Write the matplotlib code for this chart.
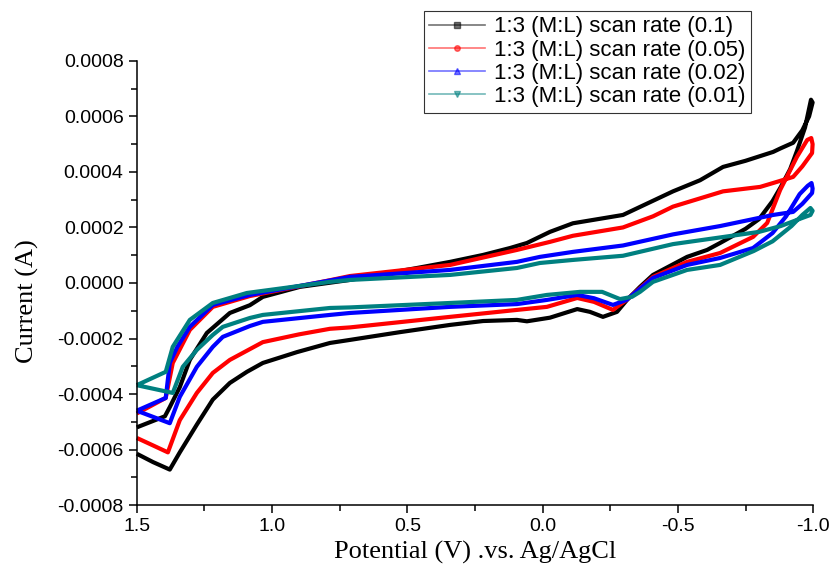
import numpy as np
import matplotlib.pyplot as plt
from matplotlib.lines import Line2D
from matplotlib.ticker import MultipleLocator, FormatStrFormatter

plt.rcParams["axes.unicode_minus"] = False

# Cyclic voltammograms, potential in V, current in units of 1e-4 A
# each loop: forward sweep (1.5 -> -1.0) then back (-1.0 -> 1.5)
v_01 = [1.50, 1.44, 1.378, 1.341, 1.278, 1.219, 1.156, 1.093, 1.034, 0.908, 0.786,
        0.712, 0.527, 0.342, 0.22, 0.095, 0.058, -0.027, -0.128, -0.175, -0.223, -0.275, -0.312,
        -0.36, -0.408, -0.534, -0.608, -0.656, -0.75, -0.80, -0.85, -0.88, -0.915, -0.94, -0.97,
        -0.992,
        -0.998, -0.985, -0.96, -0.926, -0.88, -0.852, -0.75, -0.667, -0.582, -0.482, -0.297, -0.112,
        -0.027, 0.058, 0.12, 0.22, 0.342, 0.464, 0.712, 0.897, 1.034, 1.082, 1.156, 1.241, 1.304,
        1.341, 1.378, 1.396, 1.50]
i_01 = [-6.15, -6.45, -6.72, -6.1, -5.1, -4.2, -3.6, -3.2, -2.88, -2.49, -2.16,
        -2.05, -1.77, -1.51, -1.37, -1.33, -1.38, -1.25, -0.94, -1.04, -1.22, -1.04, -0.61,
        -0.14, 0.29, 0.94, 1.19, 1.44, 1.95, 2.3, 2.95, 3.45, 4.1, 4.75, 5.6,
        6.6,
        6.5, 6.0, 5.5, 5.05, 4.85, 4.72, 4.4, 4.18, 3.7, 3.3, 2.45, 2.15,
        1.84, 1.44, 1.26, 1.01, 0.76, 0.54, 0.11, -0.14, -0.5, -0.8, -1.08, -1.8, -2.77,
        -3.75, -4.47, -4.8, -5.2]

v_005 = [1.50, 1.44, 1.385, 1.341, 1.278, 1.219, 1.156, 1.034, 0.90, 0.786, 0.712,
         0.342, 0.095, -0.016, -0.128, -0.19, -0.26, -0.31, -0.408, -0.534, -0.656, -0.778,
         -0.83, -0.878, -0.94, -0.978, -0.993,
         -0.998, -0.996, -0.96, -0.926, -0.852, -0.804, -0.667, -0.482, -0.408, -0.297, -0.112,
         -0.027, 0.095, 0.342, 0.712, 0.786, 1.082, 1.219, 1.304, 1.367, 1.393, 1.50]
i_005 = [-5.58, -5.85, -6.1, -4.94, -3.96, -3.24, -2.77, -2.13, -1.85, -1.65, -1.6,
         -1.22, -0.97, -0.86, -0.54, -0.68, -0.97, -0.61, 0.22, 0.76, 1.08, 1.66,
         2.16, 3.35, 4.54, 5.15, 5.22,
         5.0, 4.68, 4.2, 3.82, 3.6, 3.46, 3.3, 2.75, 2.4, 2.0, 1.7,
         1.48, 1.19, 0.65, 0.25, 0.1, -0.47, -0.86, -1.69, -2.88, -4.14, -4.7]

v_002 = [1.50, 1.378, 1.341, 1.278, 1.219, 1.182, 1.082, 1.034, 0.786, 0.712, 0.342, 0.095, -0.016,
         -0.128, -0.19, -0.26, -0.31, -0.408, -0.534, -0.656, -0.778, -0.85, -0.90, -0.95, -0.98,
         -0.994,
         -0.998, -0.996, -0.96, -0.926, -0.852, -0.656, -0.482, -0.297, -0.112, 0.01, 0.095, 0.342,
         0.712, 1.082, 1.219, 1.304, 1.35, 1.378, 1.393, 1.50]
i_002 = [-4.6, -5.05, -4.1, -3.02, -2.3, -1.94, -1.55, -1.4, -1.15, -1.08, -0.86, -0.76, -0.61,
         -0.43, -0.55, -0.79, -0.61, 0.18, 0.65, 0.9, 1.26, 1.8, 2.4, 3.2, 3.5,
         3.6,
         3.4, 3.24, 2.85, 2.56, 2.45, 2.05, 1.75, 1.35, 1.12, 0.94, 0.76, 0.47,
         0.22, -0.43, -0.79, -1.58, -2.3, -2.88, -4.14, -4.6]

v_001 = [1.50, 1.367, 1.33, 1.278, 1.219, 1.182, 1.082, 1.034, 0.786, 0.712, 0.342, 0.095, -0.016,
         -0.138, -0.22, -0.286, -0.33, -0.36, -0.408, -0.534, -0.656, -0.78, -0.85, -0.92, -0.96,
         -0.99,
         -0.998, -0.99, -0.94, -0.88, -0.80, -0.656, -0.482, -0.297, -0.112, 0.01, 0.095, 0.342,
         0.712, 0.786, 1.093, 1.219, 1.304, 1.367, 1.393, 1.50]
i_001 = [-3.68, -3.96, -3.02, -2.41, -1.87, -1.58, -1.26, -1.15, -0.9, -0.88, -0.72, -0.61, -0.43,
         -0.32, -0.32, -0.58, -0.5, -0.32, 0.04, 0.47, 0.65, 1.15, 1.5, 2.05, 2.45,
         2.7,
         2.6, 2.45, 2.27, 2.05, 1.84, 1.64, 1.4, 0.98, 0.83, 0.72, 0.54, 0.29,
         0.11, 0.04, -0.36, -0.72, -1.33, -2.3, -3.2, -3.68]

labels = ["1:3 (M:L) scan rate (0.1)", "1:3 (M:L) scan rate (0.05)",
          "1:3 (M:L) scan rate (0.02)", "1:3 (M:L) scan rate (0.01)"]
colors = ["black", "red", "blue", "#008080"]
markers = ["s", "o", "^", "v"]
curves = [(v_01, i_01), (v_005, i_005), (v_002, i_002), (v_001, i_001)]

fig = plt.figure(figsize=(8.34, 5.74), dpi=100)
ax = fig.add_axes([0.164, 0.12, 0.811, 0.774])

for (v, i), c in zip(curves, colors):
    ax.plot(v, np.array(i) * 1e-4, color=c, lw=3.0, solid_joinstyle="round",
            solid_capstyle="butt", clip_on=False)

ax.set_xlim(1.5, -1.0)
ax.set_ylim(-0.0008, 0.0008)
ax.xaxis.set_major_locator(MultipleLocator(0.5))
ax.xaxis.set_minor_locator(MultipleLocator(0.25))
ax.yaxis.set_major_locator(MultipleLocator(0.0002))
ax.yaxis.set_minor_locator(MultipleLocator(0.0001))
ax.xaxis.set_major_formatter(FormatStrFormatter("%.1f"))
ax.yaxis.set_major_formatter(FormatStrFormatter("%.4f"))

for s in ["top", "right"]:
    ax.spines[s].set_visible(False)
for s in ["left", "bottom"]:
    ax.spines[s].set_linewidth(1.1)
ax.tick_params(which="major", length=6, width=1.1, labelsize=14)
ax.tick_params(which="minor", length=4, width=1.1)
for t in ax.get_xticklabels() + ax.get_yticklabels():
    t.set_fontfamily("Liberation Sans")

ax.set_xlabel("Potential (V) .vs. Ag/AgCl", family="Liberation Serif", fontsize=19)
ax.set_ylabel("Current (A)", family="Liberation Serif", fontsize=19)
ax.yaxis.set_label_coords(-0.145, 0.46)

handles = [Line2D([], [], color=c, lw=1.2, alpha=0.55, marker=m, markersize=4,
                  markerfacecolor=c, markeredgecolor=c)
           for c, m in zip(colors, markers)]
leg = fig.legend(handles, labels, loc="upper left", bbox_to_anchor=(0.508, 0.981),
                 prop={"family": "Liberation Sans", "size": 16}, frameon=True,
                 fancybox=False, handlelength=2.5, handletextpad=0.4, labelspacing=0.1,
                 borderpad=0.25, borderaxespad=0)
leg.get_frame().set_edgecolor("black")
leg.get_frame().set_linewidth(0.8)

fig.savefig("out.png", dpi=100)
